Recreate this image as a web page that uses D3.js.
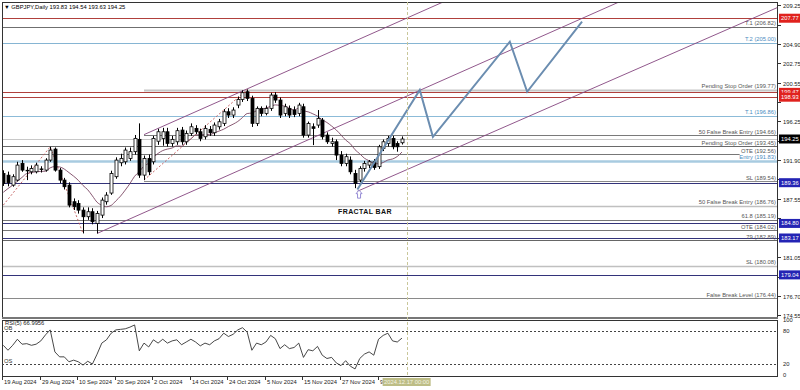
<!DOCTYPE html>
<html>
<head>
<meta charset="utf-8">
<script src="https://d3js.org/d3.v7.min.js"></script>
<style>
  body { margin: 0; background: #fff; }
  text { font-family: "Liberation Sans", Arial, sans-serif; }
</style>
</head>
<body>
<div id="chart"></div>
<script>
// GBPJPY daily, 19 Aug 2024 .. 16 Dec 2024 (bar index 0..85)
var opens  = [190.40,190.20,189.09,189.65,191.52,190.75,190.58,190.58,190.90,190.77,
              191.89,193.12,190.77,189.65,189.09,187.23,187.04,186.29,185.55,186.11,
              184.80,185.73,187.23,188.20,190.03,191.59,191.70,192.08,192.83,194.21,
              190.21,192.08,191.70,194.00,194.30,195.06,193.76,193.94,195.25,193.94,
              194.88,195.44,195.06,194.50,195.33,194.95,195.62,196.00,197.30,196.93,
              198.05,198.68,199.54,198.80,196.00,197.68,197.12,197.68,199.17,198.61,
              197.12,197.68,197.50,197.12,197.86,194.69,195.62,195.81,196.37,194.69,
              193.76,193.94,192.45,191.52,191.89,190.40,189.65,190.96,191.33,191.70,
              191.15,193.20,193.76,194.32,193.76,193.83];
var highs  = [190.75,190.60,190.30,191.70,191.89,191.15,191.30,191.60,191.20,192.10,
              193.38,193.30,191.00,189.90,189.40,187.60,187.40,186.60,186.60,186.50,
              186.20,187.70,188.30,190.70,192.20,192.60,193.30,193.30,194.70,196.00,
              192.40,192.50,194.60,195.40,195.50,195.50,194.60,195.50,195.60,195.20,
              196.00,195.80,195.40,195.80,195.70,196.10,196.50,197.60,197.70,197.80,
              199.00,199.70,199.80,199.10,197.90,197.90,198.00,199.43,199.50,198.90,
              198.20,198.00,197.90,198.30,198.20,196.20,196.00,197.49,196.60,195.00,
              194.40,194.20,192.90,192.60,192.30,190.80,191.20,191.80,191.90,192.00,
              193.60,194.20,194.60,194.60,194.00,194.54];
var lows   = [189.00,188.95,188.91,189.50,190.58,189.65,190.30,190.40,190.50,190.60,
              191.70,190.60,189.30,188.60,186.60,186.30,185.90,183.68,185.20,184.70,
              183.68,185.40,186.90,188.00,189.80,191.20,191.40,191.80,192.50,189.90,
              189.65,190.20,191.40,193.60,193.50,193.40,193.40,193.60,193.60,193.60,
              194.60,194.80,194.00,194.20,194.60,194.60,195.30,195.70,196.60,196.60,
              197.70,198.40,198.50,195.60,195.70,196.80,196.90,197.40,198.30,196.60,
              196.80,196.60,196.70,196.80,194.40,194.40,193.57,195.50,194.20,193.70,
              193.40,191.89,191.20,191.20,190.30,188.75,189.40,190.60,191.00,190.80,
              190.90,192.90,193.40,193.10,192.83,193.63];
var closes = [189.28,189.35,190.03,191.33,190.77,190.70,190.96,191.33,190.85,191.89,
              193.01,190.77,189.65,188.91,186.85,186.67,186.29,185.55,186.11,184.99,
              185.92,187.41,187.97,190.40,191.89,192.08,193.01,192.83,194.32,190.21,
              192.08,190.58,194.32,195.06,195.06,193.76,194.21,195.18,193.94,194.88,
              195.62,195.06,194.32,195.44,194.95,195.81,196.18,197.30,196.93,197.49,
              198.68,199.43,198.80,196.00,197.68,197.12,197.68,199.17,198.61,196.93,
              197.86,196.93,197.00,198.05,194.69,196.00,195.44,196.56,194.50,193.94,
              193.94,192.45,191.52,192.27,190.58,189.28,190.96,191.52,191.70,191.07,
              193.38,193.94,194.32,193.38,193.38,194.25];
// closes before 19 Aug, only used to warm up the moving average
var prevCloses = [185.2,186.3,186.9,186.4,186.4,189.9,190.3,190.6,191.6];
var maPeriod = 10;

var rsiValues = [54,45,54,65,56,57,54,56,62,73,
                 82,42,33,33,24,27,24,18,25,20,
                 38,58,64,76,82,83,84,87,91,44,
                 58,51,64,58,65,58,62,64,55,60,
                 65,60,53,58,55,62,66,76,70,74,
                 82,86,78,45,58,55,60,72,66,48,
                 55,48,50,58,32,46,44,52,36,30,
                 32,22,17,26,16,11,30,38,42,36,
                 65,72,76,62,60,67];

var dateTickIdx = [0,8,16,24,32,40,48,56,64,72,80];
var dateTickLabels = ["19 Aug 2024","29 Aug 2024","10 Sep 2024","20 Sep 2024","2 Oct 2024",
                      "14 Oct 2024","24 Oct 2024","5 Nov 2024","15 Nov 2024","27 Nov 2024","9 Dec 2024"];
var priceTicks = [209.25,207.05,204.90,202.75,200.55,198.40,196.25,194.05,191.90,189.75,
                  187.55,185.40,183.20,181.05,178.85,176.70,174.55];

var levelNames  = ["T.1","T.2","Pending Stop Order","T.1","50 False Break Entry","Pending Stop Order",
                   "OTE","Entry","SL","50 False Break Entry","61.8","OTE","79","SL","False Break Level"];
var levelPrices = [206.82,205.00,199.77,196.86,194.66,193.45,192.56,191.83,189.54,186.76,185.19,184.02,182.89,180.08,176.44];

var redMarks  = [207.77,199.47,198.93];
var blueMarks = [189.36,184.80,183.17,179.04];
var lastPrice = 194.25;

// projection path: [bar index, price]
var projection = [[75.5,188.6],[88.8,199.73],[91.6,194.5],[108,205.14],[111.7,199.54],[123.4,207.38]];
// channel lines: [bar index, price]
var channelMid   = [[20,183.68],[170,218.60]];
var channelUpper = [[30,194.74],[170,227.33]];
var channelLow   = [[75.5,188.40],[170,210.10]];
// fractal zigzag segments
var zigzag1 = [[0,186.85],[10,193.38],[17,183.68]];
var zigzag2 = [[30,189.65],[52,199.80]];
var fractalIdx = 75;
var nowIdx = 86;

var W = 800, H = 390;
var plotL = 2, plotR = 778, plotT = 2, mainB = 318, rsiT = 320, rsiB = 377;

var svg = d3.select("#chart").append("svg").attr("width", W).attr("height", H);
svg.append("rect").attr("width", W).attr("height", H).attr("fill", "#fff");

var x = d3.scaleLinear().domain([0, 100]).range([3.3, 472.3]);
var y = d3.scaleLinear().domain([174.55, 209.25]).range([315, 5]);
var yr = d3.scaleLinear().domain([0, 100]).range([375, 320]);

var defs = svg.append("defs");
defs.append("clipPath").attr("id", "clipMain").append("rect")
  .attr("x", plotL).attr("y", plotT).attr("width", plotR - plotL).attr("height", mainB - plotT);
defs.append("clipPath").attr("id", "clipRsi").append("rect")
  .attr("x", plotL).attr("y", rsiT).attr("width", plotR - plotL).attr("height", rsiB - rsiT);

var main = svg.append("g").attr("clip-path", "url(#clipMain)");

// horizontal levels
var levelStyle = [
  {c:"#6f6f6f", w:1, t:"#555", s:0},
  {c:"#86b5d3", w:1, t:"#4a8cc0", s:0},
  {c:"#c6c6c6", w:2, t:"#555", s:30},
  {c:"#8cbbd8", w:1, t:"#4a8cc0", s:0},
  {c:"#7a7a7a", w:1, t:"#555", s:30},
  {c:"#6a6a6a", w:1, t:"#555", s:0},
  {c:"#777", w:1, t:"#555", s:0, e:157},
  {c:"#a8cbe0", w:2.5, t:"#4a8cc0", s:0},
  {c:"#8a8a8a", w:1, t:"#555", s:30},
  {c:"#c0c0c0", w:1.5, t:"#555", s:0},
  {c:"#777", w:1, t:"#555", s:0},
  {c:"#777", w:1, t:"#555", s:0},
  {c:"#666", w:1, t:"#555", s:0},
  {c:"#c0c0c0", w:1.5, t:"#555", s:0},
  {c:"#8a8a8a", w:1, t:"#555", s:0}
];

main.append("line").attr("x1", plotL).attr("x2", plotR)
  .attr("y1", Math.round(y(lastPrice)) + 0.5).attr("y2", Math.round(y(lastPrice)) + 0.5)
  .attr("stroke", "#c8c8c8");

levelPrices.forEach(function(p, i) {
  var st = levelStyle[i];
  var yy = Math.round(y(p)) + 0.5;
  main.append("line")
    .attr("x1", st.s ? x(st.s) : plotL).attr("x2", st.e ? x(st.e) : plotR)
    .attr("y1", yy).attr("y2", yy)
    .attr("stroke", st.c).attr("stroke-width", st.w);
});

redMarks.forEach(function(p) {
  var yy = Math.round(y(p)) + 0.5;
  main.append("line").attr("x1", plotL).attr("x2", plotR).attr("y1", yy).attr("y2", yy)
    .attr("stroke", "#b0403c").attr("stroke-width", 1);
});
blueMarks.forEach(function(p) {
  var yy = Math.round(y(p)) + 0.5;
  main.append("line").attr("x1", plotL).attr("x2", plotR).attr("y1", yy).attr("y2", yy)
    .attr("stroke", "#33337a").attr("stroke-width", 1);
});

levelPrices.forEach(function(p, i) {
  main.append("text")
    .attr("x", 776).attr("y", y(p) - 1.5)
    .attr("text-anchor", "end")
    .attr("font-size", "5.8px")
    .attr("fill", levelStyle[i].t)
    .text(levelNames[i] + " (" + p.toFixed(2) + ")");
});

// channels
var pline = d3.line().x(function(d) { return x(d[0]); }).y(function(d) { return y(d[1]); });
[channelMid, channelUpper, channelLow].forEach(function(ch) {
  main.append("path").attr("d", pline(ch)).attr("fill", "none")
    .attr("stroke", "#84457f").attr("stroke-width", 0.9);
});

// fractal zigzag
[zigzag1, zigzag2].forEach(function(z) {
  main.append("path").attr("d", pline(z)).attr("fill", "none")
    .attr("stroke", "#c25858").attr("stroke-width", 0.9).attr("stroke-dasharray", "2,2");
});

// moving average of closes
var allCloses = prevCloses.concat(closes);
var maValues = closes.map(function(c, i) {
  var k = i + prevCloses.length;
  return d3.mean(allCloses.slice(k - maPeriod + 1, k + 1));
});
main.append("path")
  .attr("d", d3.line().curve(d3.curveMonotoneX)
    .x(function(d, i) { return x(i); }).y(function(d) { return y(d); })(maValues))
  .attr("fill", "none").attr("stroke", "#7b4662").attr("stroke-width", 0.9);

// candles
var candles = main.append("g");
closes.forEach(function(c, i) {
  var cx = Math.round(x(i)) + 0.5;
  var o = opens[i], up = c >= o;
  candles.append("line").attr("x1", cx).attr("x2", cx)
    .attr("y1", y(highs[i])).attr("y2", y(lows[i]))
    .attr("stroke", "#000").attr("stroke-width", 1);
  var yTop = y(Math.max(o, c)), yBot = y(Math.min(o, c));
  candles.append("rect")
    .attr("x", cx - 1.5).attr("y", yTop)
    .attr("width", 3).attr("height", Math.max(0.6, yBot - yTop))
    .attr("fill", up ? "#fff" : "#000").attr("stroke", "#000").attr("stroke-width", 0.8);
});

// projection
main.append("path").attr("d", pline(projection)).attr("fill", "none")
  .attr("stroke", "#6b8db0").attr("stroke-width", 2).attr("stroke-linejoin", "miter");

// fractal arrow under the fractal bar
var ax = x(fractalIdx) + 4, ay = y(lows[fractalIdx]) + 2;
main.append("path")
  .attr("d", "M" + ax + "," + ay + " l3,3.5 l-1.5,0 l0,4.5 l-3,0 l0,-4.5 l-1.5,0 z")
  .attr("fill", "#fff").attr("stroke", "#8a80d0").attr("stroke-width", 0.9);

svg.append("text").attr("x", 365).attr("y", 214).attr("text-anchor", "middle")
  .attr("font-size", "7px").attr("font-weight", "bold").attr("letter-spacing", "0.4px")
  .attr("fill", "#111").text("FRACTAL BAR");

// title
svg.append("text").attr("x", 4).attr("y", 9).attr("font-size", "5.8px").attr("fill", "#000")
  .text("\u25BC GBPJPY,Daily  193.83 194.54 193.63 194.25");

// frames
svg.append("rect").attr("x", plotL + 0.5).attr("y", plotT + 0.5)
  .attr("width", plotR - plotL - 1).attr("height", mainB - plotT - 1)
  .attr("fill", "none").attr("stroke", "#333").attr("stroke-width", 1);
svg.append("line").attr("x1", plotL).attr("x2", plotR).attr("y1", mainB).attr("y2", mainB)
  .attr("stroke", "#777").attr("stroke-width", 2);
svg.append("rect").attr("x", plotL + 0.5).attr("y", rsiT + 0.5)
  .attr("width", plotR - plotL - 1).attr("height", rsiB - rsiT - 1)
  .attr("fill", "none").attr("stroke", "#333").attr("stroke-width", 1);

// price axis (tick labels hidden behind price tags are skipped)
var tagPrices = redMarks.concat(blueMarks, [lastPrice]);
priceTicks.forEach(function(p) {
  var yy = Math.round(y(p)) + 0.5;
  svg.append("line").attr("x1", plotR).attr("x2", plotR + 3).attr("y1", yy).attr("y2", yy).attr("stroke", "#333");
  var hidden = tagPrices.some(function(t) { return Math.abs(y(t) - y(p)) < 7.5; });
  if (!hidden) {
    svg.append("text").attr("x", 783).attr("y", yy + 2).attr("font-size", "5.8px").attr("fill", "#222")
      .text(p.toFixed(2));
  }
});

function axisTag(p, bg) {
  var yy = y(p);
  svg.append("rect").attr("x", plotR + 1).attr("y", yy - 4.5).attr("width", 21).attr("height", 9).attr("fill", bg);
  svg.append("text").attr("x", plotR + 3).attr("y", yy + 2).attr("font-size", "5.8px").attr("fill", "#fff")
    .text(p.toFixed(2));
}
redMarks.forEach(function(p) { axisTag(p, "#e0221e"); });
blueMarks.forEach(function(p) { axisTag(p, "#2424b4"); });
axisTag(lastPrice, "#000");

// RSI panel
var rsiG = svg.append("g").attr("clip-path", "url(#clipRsi)");
[80, 20].forEach(function(v) {
  rsiG.append("line").attr("x1", plotL).attr("x2", plotR)
    .attr("y1", Math.round(yr(v)) + 0.5).attr("y2", Math.round(yr(v)) + 0.5)
    .attr("stroke", "#444").attr("stroke-dasharray", "2,2");
});
rsiG.append("path")
  .attr("d", d3.line().x(function(d, i) { return x(i); }).y(function(d) { return yr(d); })(rsiValues))
  .attr("fill", "none").attr("stroke", "#333").attr("stroke-width", 0.9);
svg.append("text").attr("x", 5).attr("y", 325).attr("font-size", "5.8px").attr("fill", "#222").text("RSI(5) 66.9956");
svg.append("text").attr("x", 4).attr("y", 329.5).attr("font-size", "5.8px").attr("fill", "#333").text("OB");
svg.append("text").attr("x", 4).attr("y", 363).attr("font-size", "5.8px").attr("fill", "#333").text("OS");
[100, 80, 20, 0].forEach(function(v) {
  svg.append("text").attr("x", 783).attr("y", yr(v) + 2.2).attr("font-size", "5.8px").attr("fill", "#222").text(v);
});

// now marker
svg.append("line").attr("x1", Math.round(x(nowIdx)) + 0.5).attr("x2", Math.round(x(nowIdx)) + 0.5)
  .attr("y1", plotT).attr("y2", rsiB)
  .attr("stroke", "#c9c79a").attr("stroke-dasharray", "3,2");

// date axis
var nx = x(nowIdx);
defs.append("clipPath").attr("id", "clipDates").append("rect")
  .attr("x", 0).attr("y", rsiB).attr("width", nx - 24).attr("height", H - rsiB);
var dateG = svg.append("g").attr("clip-path", "url(#clipDates)");
dateTickIdx.forEach(function(idx, i) {
  var tx = Math.round(x(idx)) - 0.5;
  dateG.append("line").attr("x1", tx).attr("x2", tx).attr("y1", rsiB).attr("y2", rsiB + 3).attr("stroke", "#333");
  dateG.append("text").attr("x", tx + 1.5).attr("y", 384).attr("font-size", "5.8px").attr("fill", "#222")
    .text(dateTickLabels[i]);
});
svg.append("rect").attr("x", nx - 24).attr("y", 378).attr("width", 48).attr("height", 8).attr("fill", "#bdbd86");
svg.append("text").attr("x", nx).attr("y", 384).attr("text-anchor", "middle").attr("font-size", "5.8px")
  .attr("fill", "#f4f4e4").text("2024.12.17 00:00");
</script>
</body>
</html>
